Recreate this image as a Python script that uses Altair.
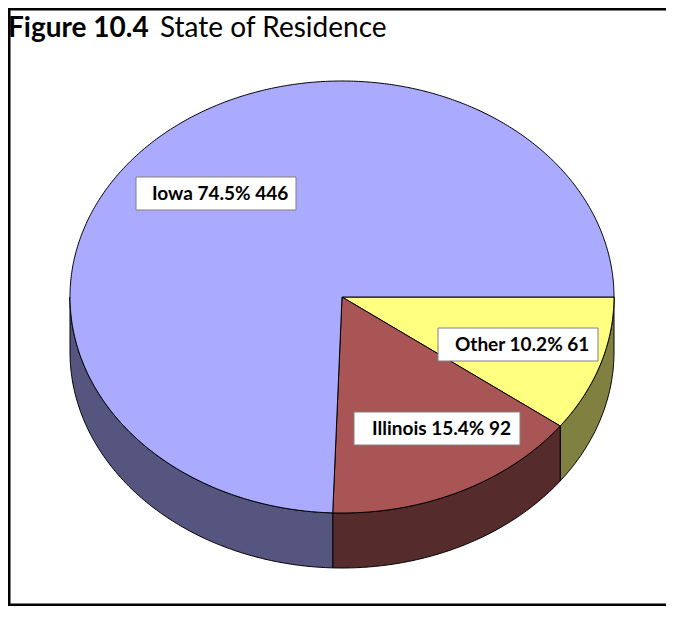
import math
import altair as alt
import pandas as pd

# values
names = ["Other", "Illinois", "Iowa"]
percents = ["10.2%", "15.4%", "74.5%"]
counts = [61, 92, 446]
top_colors = ["#FFFF80", "#AA5555", "#AAAAFF"]
wall_colors = ["#808040", "#552B2B", "#555580"]

# layout of the tilted pie, in page pixels
W, H = 658, 598
CX, CY, RX, RY, DEPTH = 342, 297, 272, 216, 55
box_x = [438, 354, 136]
box_x2 = [598, 520, 296]
box_y = [328, 412, 177]
box_y2 = [361, 445, 210]
text_x = [455, 372, 152]

X = alt.Scale(domain=[8, 8 + W], range=[0, W], nice=False, zero=False)
Y = alt.Scale(domain=[8 + H, 8], nice=False, zero=False)
xe = lambda f="x": alt.X(f"{f}:Q", scale=X, axis=None)
ye = lambda f="y": alt.Y(f"{f}:Q", scale=Y, axis=None)


def arc(a0, a1, dy=0.0):
    n = max(2, int(abs(a1 - a0) * 2))
    return [(CX + RX * math.cos(math.radians(a0 + (a1 - a0) * i / n)),
             CY + dy + RY * math.sin(math.radians(a0 + (a1 - a0) * i / n)))
            for i in range(n + 1)]


def poly(points, fill, sw=1.0):
    df = pd.DataFrame(points, columns=["x", "y"])
    df["i"] = range(len(df))
    return alt.Chart(df).mark_line(
        fill=fill, stroke="#000000", strokeWidth=sw, interpolate="linear", clip=False
    ).encode(x=xe(), y=ye(), order="i:Q")


total = sum(counts)
edges = [0.0]
for c in counts:
    edges.append(edges[-1] + 360.0 * c / total)

layers = []
# front wall, visible half only
for i in range(3):
    a0, a1 = edges[i], min(edges[i + 1], 180.0)
    pts = arc(a0, a1) + arc(a1, a0, DEPTH)
    pts.append(pts[0])
    layers.append(poly(pts, wall_colors[i]))
# top face
for i in range(3):
    pts = [(CX, CY)] + arc(edges[i], edges[i + 1]) + [(CX, CY)]
    layers.append(poly(pts, top_colors[i]))

labels = pd.DataFrame({
    "t": [f"{n} {p} {c}" for n, p, c in zip(names, percents, counts)],
    "x": box_x, "x2": box_x2, "y": box_y, "y2": box_y2, "tx": text_x,
    "ty": [(a + b) / 2 for a, b in zip(box_y, box_y2)],
})
layers.append(alt.Chart(labels).mark_rect(fill="#FFFFFF", stroke="#808080", strokeWidth=1).encode(
    x=xe(), x2="x2:Q", y=ye(), y2="y2:Q"))
layers.append(alt.Chart(labels).mark_text(
    font="Lato", fontWeight="bold", fontSize=19, align="left", baseline="middle", color="#000000"
).encode(x=xe("tx"), y=ye("ty"), text="t:N"))

# title
titles = pd.DataFrame({"t": ["Figure 10.4"], "x": [8], "y": [37]})
titles2 = pd.DataFrame({"t": ["State of Residence"], "x": [160], "y": [37]})
layers.append(alt.Chart(titles).mark_text(
    font="Lato", fontWeight="bold", fontSize=28, align="left", baseline="alphabetic", color="#000000"
).encode(x=xe(), y=ye(), text="t:N"))
layers.append(alt.Chart(titles2).mark_text(
    font="Lato", fontSize=28, align="left", baseline="alphabetic", color="#000000"
).encode(x=xe(), y=ye(), text="t:N"))

# page frame
fr_left = pd.DataFrame({"x": [9], "y": [8], "y2": [8 + H]})
fr_top = pd.DataFrame({"x": [8], "x2": [8 + W], "y": [9]})
fr_bot = pd.DataFrame({"x": [8], "x2": [8 + W], "y": [7 + H]})
layers.append(alt.Chart(fr_left).mark_rule(color="#000000", strokeWidth=3).encode(x=xe(), y=ye(), y2="y2:Q"))
layers.append(alt.Chart(fr_top).mark_rule(color="#000000", strokeWidth=3).encode(x=xe(), x2="x2:Q", y=ye()))
layers.append(alt.Chart(fr_bot).mark_rule(color="#000000", strokeWidth=3).encode(x=xe(), x2="x2:Q", y=ye()))

chart = alt.layer(*layers).properties(
    width=W, height=H, padding=0, background="#FFFFFF",
    autosize=alt.AutoSizeParams(type="none"),
).configure_view(stroke=None)

chart.save("out.html", embed_options={"renderer": "svg", "actions": False})
